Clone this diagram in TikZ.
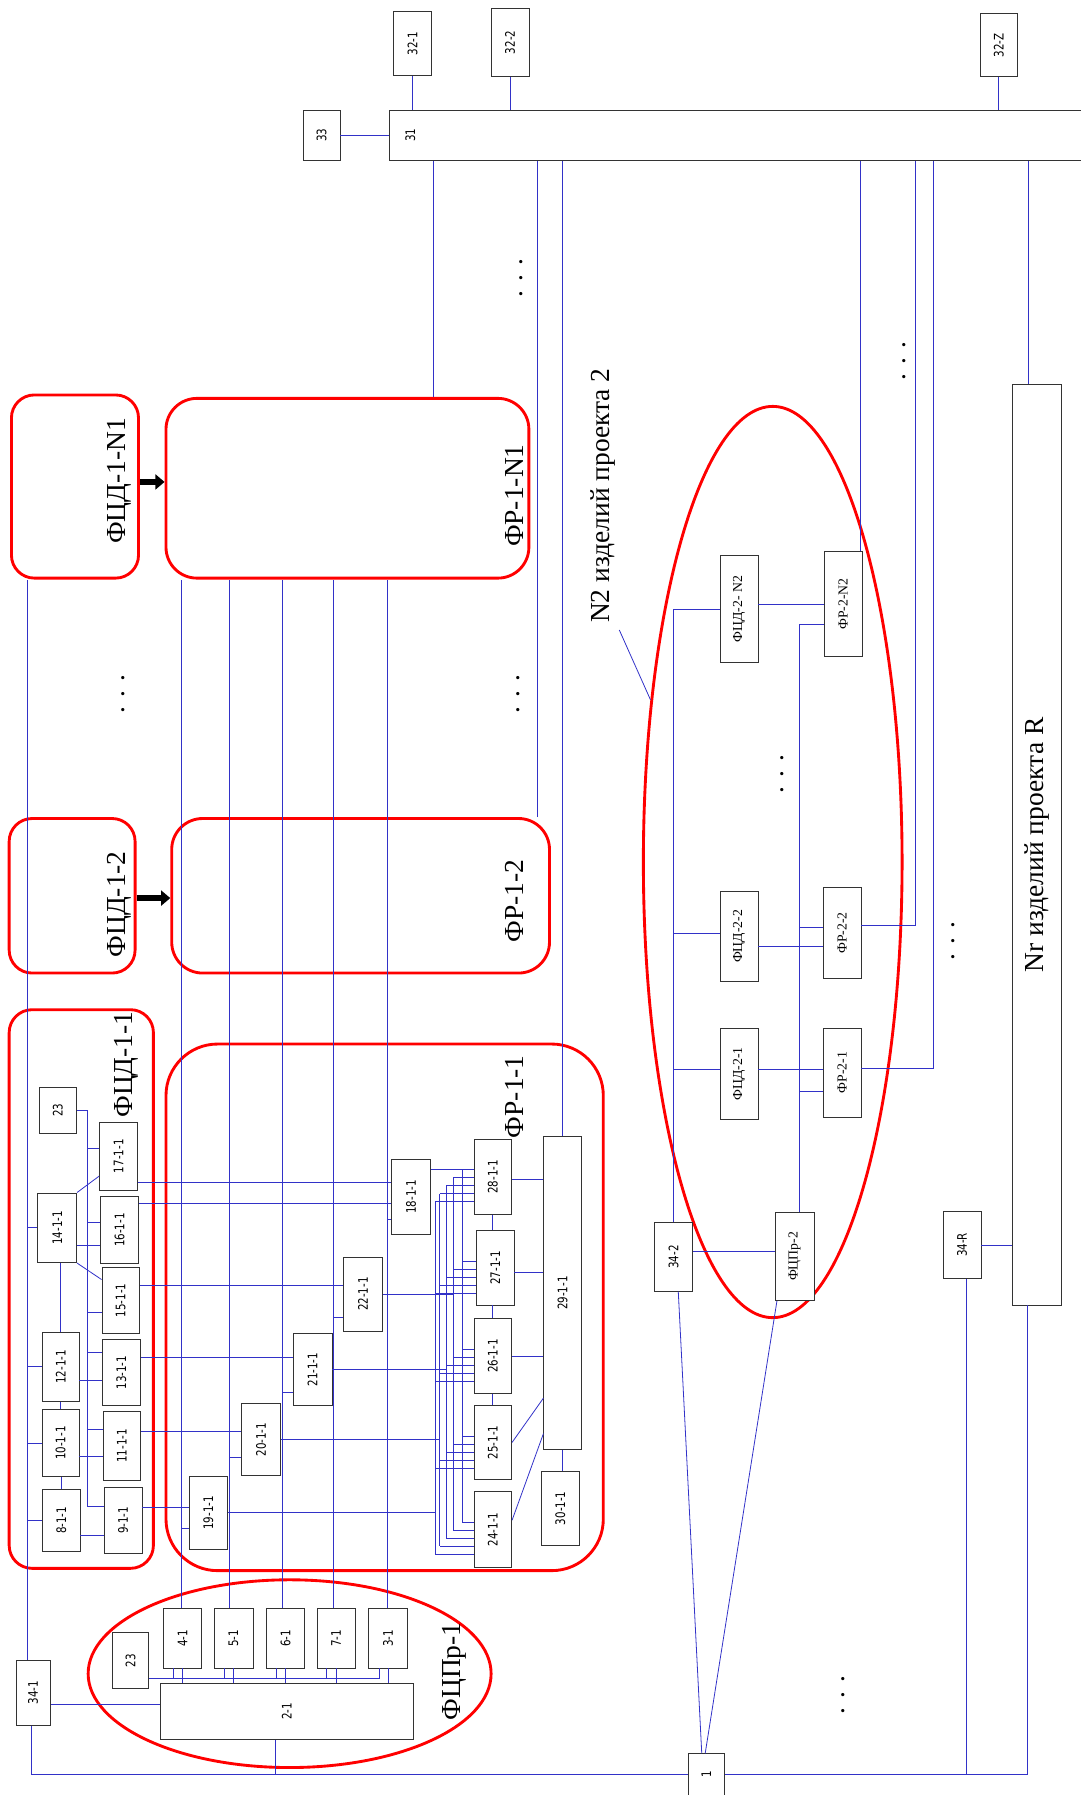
\documentclass[tikz,border=0pt]{standalone}
\usepackage{graphicx}
\usepackage{fontspec}
\setmainfont{Liberation Serif}
\newfontfamily\dejavu[FakeStretch=0.78]{DejaVu Sans}
\usetikzlibrary{shapes.geometric, arrows.meta, calc}
\definecolor{wireblue}{RGB}{50,50,200}
\newcommand{\rt}[1]{\rotatebox{90}{#1}}

\begin{document}
\begin{tikzpicture}[x=1pt, y=-1pt,
    box/.style={draw=black!80, line width=0.6pt, fill=white, inner sep=0pt,
                font=\dejavu\fontsize{11.5}{11.5}\selectfont},
    sbox/.style={box, font=\fontsize{12}{12}\selectfont},
    sz/.style 2 args={minimum width=#1, minimum height=#2},
    grp/.style={draw=red, line width=2.5pt, rounded corners=20pt, inner sep=0pt},
    gell/.style={draw=red, line width=2.5pt, ellipse, inner sep=0pt},
    glbl/.style={font=\fontsize{24}{24}\selectfont, inner sep=0pt},
    dots/.style={font=\fontsize{24}{24}\selectfont, inner sep=0pt},
    wire/.style={draw=wireblue, line width=0.7pt},
    fwd/.style={draw=black, line width=5pt, -{Triangle[length=8pt, width=13pt]}}
  ]
  \useasboundingbox (0,0) rectangle (944,1568);

  % группы
  \node[grp, sz={111}{160}] (gdN1) at (65.5,425) {};
  \node[grp, sz={317}{157}, rounded corners=27pt] (grN1) at (303.5,426.5) {};
  \node[grp, sz={110}{135}] (gd12) at (63,782.5) {};
  \node[grp, sz={330}{135}, rounded corners=27pt] (gr12) at (315,782.5) {};
  \node[grp, sz={126}{488}] (gd11) at (71,1126) {};
  \node[grp, sz={382}{460}, rounded corners=45pt] (gr11) at (336,1142) {};
  \node[gell, sz={352}{164}] (gp1) at (253,1462) {};
  \node[gell, sz={226}{796}] (g2) at (675,753) {};

  \node[glbl] (lgdN1) at (104,420) {\rt{ФЦД-1-N1}};
  \node[glbl] (lgrN1) at (449,433) {\rt{ФР-1-N1}};
  \node[glbl] (lgd12) at (104,790) {\rt{ФЦД-1-2}};
  \node[glbl] (lgr12) at (449,787) {\rt{ФР-1-2}};
  \node[glbl] (lgd11) at (110,930) {\rt{ФЦД-1-1}};
  \node[glbl] (lgr11) at (449,958) {\rt{ФР-1-1}};
  \node[glbl] (lgp1) at (397,1460) {\rt{ФЦПр-1}};
  \node[glbl] (lbl2) at (527,433) {\rt{N2 изделий проекта 2}};

  \draw[fwd] (gdN1.east) ++(0,-4) coordinate (q) -- (q -| grN1.west);
  \draw[fwd] (gd12.east) ++(0,2) coordinate (q) -- (q -| gr12.west);

  % верх
  \node[box, sz={33}{56}] (n321) at (360.5,38) {\rt{32-1}};
  \node[box, sz={33}{60}] (n322) at (445.5,37) {\rt{32-2}};
  \node[box, sz={33}{55}] (n32z) at (872.5,39.5) {\rt{32-Z}};
  \node[box, sz={32}{44}] (n33) at (281,118) {\rt{33}};
  \node[box, sz={620}{44}, text width=592, align=left] (n31) at (650,118) {\rt{31}};

  % проект 2 и проект R
  \node[sbox, sz={33}{94}] (fcd2n) at (645.5,532) {\rt{ФЦД-2- N2}};
  \node[sbox, sz={33}{91}] (fr2n) at (736.5,527.5) {\rt{ФР-2-N2}};
  \node[sbox, sz={33}{78}] (fcd22) at (645.5,818) {\rt{ФЦД-2-2}};
  \node[sbox, sz={33}{80}] (fr22) at (735.5,815) {\rt{ФР-2-2}};
  \node[sbox, sz={33}{80}] (fcd21) at (645.5,938) {\rt{ФЦД-2-1}};
  \node[sbox, sz={33}{78}] (fr21) at (735.5,937) {\rt{ФР-2-1}};
  \node[box, sz={33}{60}] (n342) at (588.5,1098) {\rt{34-2}};
  \node[sbox, sz={34}{77}] (fcpr2) at (694,1097.5) {\rt{ФЦПр-2}};
  \node[box, sz={33}{59}] (n34r) at (840.5,1087.5) {\rt{34-R}};
  \node[box, font=\fontsize{24}{24}\selectfont, sz={43}{804}] (nr) at (905.5,738) {\rt{Nr изделий проекта R}};
  \node[box, sz={32}{36}] (n1) at (617,1550) {\rt{1}};
  \node[box, sz={30}{57}] (n341) at (29,1478.5) {\rt{34-1}};

  % ФЦПр-1
  \node[box, sz={221}{49}] (p2) at (250.5,1495) {\rt{2-1}};
  \node[box, sz={32}{49}] (p23) at (114,1450.5) {\rt{23}};
  \node[box, sz={33}{52}] (p4) at (159.5,1431) {\rt{4-1}};
  \node[box, sz={34}{52}] (p5) at (204,1431) {\rt{5-1}};
  \node[box, sz={33}{52}] (p6) at (249.5,1431) {\rt{6-1}};
  \node[box, sz={33}{52}] (p7) at (293.5,1431) {\rt{7-1}};
  \node[box, sz={34}{52}] (p3) at (339,1431) {\rt{3-1}};

  % ФЦД-1-1
  \node[box, sz={33}{40}] (d23) at (50.5,970) {\rt{23}};
  \node[box, sz={33}{60}] (d17) at (103.5,1010) {\rt{17-1-1}};
  \node[box, sz={34}{61}] (d14) at (50,1072.5) {\rt{14-1-1}};
  \node[box, sz={33}{59}] (d16) at (104.5,1074.5) {\rt{16-1-1}};
  \node[box, sz={33}{58}] (d15) at (105.5,1136) {\rt{15-1-1}};
  \node[box, sz={32}{60}] (d12) at (53,1194) {\rt{12-1-1}};
  \node[box, sz={34}{58}] (d13) at (106,1199) {\rt{13-1-1}};
  \node[box, sz={32}{59}] (d10) at (53,1260.5) {\rt{10-1-1}};
  \node[box, sz={33}{60}] (d11) at (106.5,1263) {\rt{11-1-1}};
  \node[box, sz={33}{54}] (d8) at (53.5,1328) {\rt{8-1-1}};
  \node[box, sz={33}{58}] (d9) at (107.5,1328) {\rt{9-1-1}};

  % ФР-1-1
  \node[box, sz={34}{65}] (r18) at (359,1045.5) {\rt{18-1-1}};
  \node[box, sz={34}{65}] (r22) at (317,1130.5) {\rt{22-1-1}};
  \node[box, sz={34}{63}] (r21) at (273,1196.5) {\rt{21-1-1}};
  \node[box, sz={34}{63}] (r20) at (228,1257.5) {\rt{20-1-1}};
  \node[box, sz={34}{63}] (r19) at (182,1321.5) {\rt{19-1-1}};
  \node[box, sz={33}{66}] (r28) at (430.5,1028) {\rt{28-1-1}};
  \node[box, sz={33}{65}] (r27) at (432.5,1107.5) {\rt{27-1-1}};
  \node[box, sz={33}{65}] (r26) at (430.5,1184.5) {\rt{26-1-1}};
  \node[box, sz={33}{64}] (r25) at (430.5,1260) {\rt{25-1-1}};
  \node[box, sz={33}{66}] (r24) at (430.5,1336) {\rt{24-1-1}};
  \node[box, sz={33}{273}] (r29) at (491.5,1129.5) {\rt{29-1-1}};
  \node[box, sz={33}{65}] (r30) at (489.5,1317.5) {\rt{30-1-1}};

  % многоточия
  \foreach \nm/\px/\py in {dtop/455/243, dleft/108/606, dfr/453/606, dright/790/315,
                           dn2/683/676, dnr/833/822, dbot/737/1481}
    \node[dots] (\nm) at (\px,\py) {\rt{. . .}};

  % связи сверху
  \foreach \nd in {n321,n322,n32z}
    \draw[wire] (\nd.south) -- (\nd.south |- n31.north);
  \draw[wire] (n33.east) -- (n33.east -| n31.west);
  \draw[wire] (grN1.north) ++(75,0) coordinate (q) -- (q |- n31.south);
  \draw[wire] (gr12.north east) ++(-12,0) coordinate (q) -- (q |- n31.south);
  \draw[wire] (r29.north) -- (r29.north |- n31.south);
  \draw[wire] (fr2n.north east) ++(-2,0) coordinate (q) -- (q |- n31.south);
  \draw[wire] (fr22.east) ++(0,-7) coordinate (q) -- ++(47,0) coordinate (q2) -- (q2 |- n31.south);
  \draw[wire] (fr21.east) ++(0,-4) coordinate (q) -- ++(63,0) coordinate (q2) -- (q2 |- n31.south);
  \draw[wire] (nr.north) ++(-7,0) coordinate (q) -- (q |- n31.south);

  % проект 2
  \draw[wire] (fcd2n.west) -| (n342.north);
  \draw[wire] (fcd22.west) ++(0,-3) coordinate (q) -- (q -| n342.north);
  \draw[wire] (fcd21.west) ++(0,-4) coordinate (q) -- (q -| n342.north);
  \draw[wire] (fcd2n.east) ++(0,-4) coordinate (q) -- (q -| fr2n.west);
  \draw[wire] (fcd22.east) ++(0,9) coordinate (q) -- (q -| fr22.west);
  \draw[wire] (fcd21.east) ++(0,-4) coordinate (q) -- (q -| fr21.west);
  \draw[wire] (fcpr2.north) ++(4,0) coordinate (rb) (fr2n.west) ++(0,18) coordinate (q) (rb) |- (q);
  \draw[wire] (fr22.west) ++(0,-5) coordinate (q) -- (q -| rb);
  \draw[wire] (fr21.west) ++(0,16) coordinate (q) -- (q -| rb);
  \draw[wire] (n342.east) ++(0,-5) coordinate (q) -- (q -| fcpr2.west);
  \draw[wire] (n342.south) ++(4,0) coordinate (q) (n1.north) ++(-4,0) coordinate (q2) (q) -- (q2);
  \draw[wire] (fcpr2.south west) ++(2,0) coordinate (q) (n1.north) ++(-1,0) coordinate (q2) (q) -- (q2);
  \draw[wire] (n34r.east) -- (n34r.east -| nr.west);
  \draw[wire] (n34r.south) ++(4,0) coordinate (q) -- (q |- n1.east);
  \draw[wire] (nr.south) ++(-8,0) coordinate (q) -- (q |- n1.east) -- (n1.east);
  \draw[wire] (lbl2.south) ++(14,6) coordinate (q) -- (g2.127);

  % левая шина
  \coordinate (lb) at ($(n341.north)+(-5,0)$);
  \draw[wire] (lb) -- (lb |- gdN1.south);
  \foreach \nd in {d14,d12,d10,d8}
    \draw[wire] (\nd.west) -- (\nd.west -| lb);
  \draw[wire] (n341.east) ++(0,10) coordinate (q) -- (q -| p2.west);
  \draw[wire] (n341.south) ++(-2,0) coordinate (q) |- (n1.west);
  \draw[wire] (p2.south) ++(-10,0) coordinate (q) -- (q |- n1.west);

  % ФЦПр-1
  \coordinate (pb) at ($(p23.south east)+(0,-9)$);
  \draw[wire] (pb) -| ($(p3.south)+(-8,0)$);
  \foreach \nd/\dx in {p4/-1, p5/-4, p6/-3, p7/-2, p3/-1}{
    \draw[wire] (\nd.south) -- (\nd.south |- p2.north);
    \draw[wire] (\nd.south) ++(-8,0) coordinate (q) -- (q |- pb);
    \draw[wire] (\nd.north) ++(\dx,0) coordinate (v\nd) -- (v\nd |- grN1.south);
  }
  \foreach \trg/\src/\dy in {r19/p4/14, r20/p5/16, r21/p6/20, r22/p7/20, r18/p3/20}
    \draw[wire] (\trg.west) ++(0,\dy) coordinate (q) -- (q -| v\src);

  % ФЦД-1-1
  \coordinate (ib) at ($(d23.east)+(9,0)$);
  \draw[wire] (d9.west) ++(0,-12) coordinate (q) -- (q -| ib) -- (ib) -- (d23.east);
  \foreach \nd/\dy in {d17/-7, d16/-7, d15/10, d13/-18, d11/-14}
    \draw[wire] (\nd.west) ++(0,\dy) coordinate (q) -- (q -| ib);
  \draw[wire] (d14.east) ++(0,15) coordinate (q) -- (q -| d16.west);
  \draw[wire] (d17.south west) ++(0,-13) coordinate (q) (d14.north east) -- (q);
  \draw[wire] (d15.north west) ++(0,11) coordinate (q) (d14.south east) -- (q);
  \draw[wire] (d12.north) -- (d12.north |- d14.south);
  \draw[wire] (d10.north) -- (d10.north |- d12.south);
  \draw[wire] (d8.north) -- (d8.north |- d10.south);
  \draw[wire] (d13.west) ++(0,7) coordinate (q) -- (q -| d12.east);
  \draw[wire] (d11.west) ++(0,9) coordinate (q) -- (q -| d10.east);
  \draw[wire] (d9.west) ++(0,13) coordinate (q) -- (q -| d8.east);
  \foreach \src/\trg/\dy in {d17/r18/23, d16/r18/-23, d15/r22/-13, d13/r21/-13, d11/r20/-13, d9/r19/-11}
    \draw[wire] (\src.east) ++(0,\dy) coordinate (q) -- (q -| \trg.west);

  % ФР-1-1
  \foreach \xb/\dy in {380/55, 384/48, 390/41, 396/34, 404/27}{
    \coordinate (bx) at (\xb,0);
    \draw[wire] (r28.north west) ++(0,\dy) coordinate (t) (r24.north west) ++(0,\dy) coordinate (b)
      (t -| bx) -- (b -| bx);
    \foreach \bk in {r24,r25,r26,r27,r28}
      \draw[wire] (\bk.north west) ++(0,\dy) coordinate (q) -- (q -| bx);
  }
  \draw[wire] (r18.north east) ++(0,9) coordinate (q) -- (q -| r28.west);
  \foreach \src/\xb in {r19/380, r20/384, r21/390, r22/396}{
    \coordinate (bx) at (\xb,0);
    \draw[wire] (\src.east) -- (\src.east -| bx);
  }
  \draw[wire] (r28.south) -- (r28.south |- r27.north);
  \draw[wire] (r27.south) ++(-2,0) coordinate (q) -- (q |- r26.north);
  \draw[wire] (r26.south) -- (r26.south |- r25.north);
  \foreach \nd/\dy in {r28/2, r27/4, r26/0}
    \draw[wire] (\nd.east) ++(0,\dy) coordinate (q) -- (q -| r29.west);
  \draw[wire] (r29.south west) ++(0,-45) coordinate (q) (r25.east) -- (q);
  \draw[wire] (r29.south west) ++(0,-14) coordinate (q) (r24.east) ++(0,-8) -- (q);
  \draw[wire] (r29.south) -- (r29.south |- r30.north);
\end{tikzpicture}
\end{document}
